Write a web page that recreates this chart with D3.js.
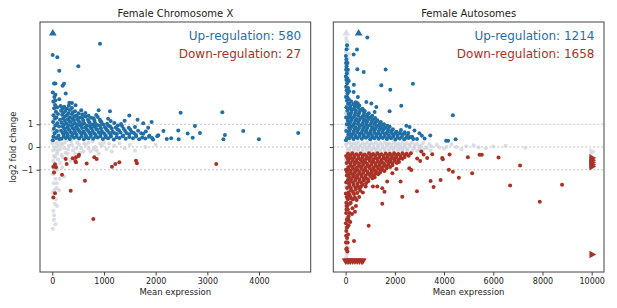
<!DOCTYPE html>
<html>
<head>
<meta charset="utf-8">
<script src="https://cdn.jsdelivr.net/npm/d3@7"></script>
<style>
  body { margin: 0; background: #fff; }
  text { font-family: "DejaVu Sans", sans-serif; }
</style>
</head>
<body>
<div id="chart"></div>
<script>
// ---- data (mean expression, log2 fold change) ----
const panelTitles = ["Female Chromosome X", "Female Autosomes"];
const upCounts = [580, 1214];
const downCounts = [27, 1658];
const xTicksX = [0, 1000, 2000, 3000, 4000];
const xTicksA = [0, 2000, 4000, 6000, 8000, 10000];
const yTicks = [-1, 0, 1];

// chromosome X
const xGray = [
  [10,-3.6],[30,-3.2],[20,-2.8],[50,-2.5],[15,-2.2],[40,-1.9],[25,-1.6],[60,-1.4],[10,-1.2],[35,-1.0],[70,-0.8],[20,-0.6],[55,-0.45],[90,-0.3],[15,-0.15],[45,0],[80,0.15],[30,0.3],[65,0.5],[10,0.7],[40,0.9],[20,1.2],[55,1.5],[30,1.9],[15,2.4],[100,-0.2],[150,-0.1],[200,0.1],[260,-0.25],[320,0.05],[400,-0.15],[480,0.2],[560,-0.05],[650,0.1],[740,-0.2],[830,0.0],[920,0.15],[1050,-0.1],[1200,0.05],[1400,-0.05],[120,0.25],[180,-0.35],[240,0.2],[300,-0.1],[360,0.25],[440,-0.3],[520,0.1],[600,-0.2],[700,0.2],[800,-0.1],[900,-0.3],[1000,0.2],[250,-0.5],[150,-0.7],[100,-1.0],[80,-1.8],[60,1.1],[120,0.6],[350,-0.6],[90,-2.6],[140,-1.4],
  [60,-3.4],[35,-3.0],[70,-2.3],[5,-2.0],[85,-1.6],[50,-1.1],[110,-0.55],[30,-0.4],[70,-0.1],[120,0.05],[5,0.15],[100,0.4],[50,0.65],[90,0.95],[5,1.4],[80,1.7],[45,2.1],[200,-0.45],[300,-0.3],[380,0.1],[460,-0.05],[540,-0.25],[620,0.15],[700,-0.05],[780,0.25],[860,-0.15],[960,0.05],[1100,0.15],[1150,-0.2],[1300,0.15],[1500,0.1],[1600,-0.15],[1800,0.0],[2000,0.1],[230,-0.05],[170,0.15],[280,0.3],[190,-0.9],[230,-1.3],[130,-1.9]
];
const xUp = [
  [180,0.36],[260,0.40],[340,0.35],[420,0.41],[520,0.37],[610,0.34],[700,0.39],[790,0.36],[880,0.42],[980,0.35],[1080,0.38],[1190,0.33],[1300,0.40],[1420,0.36],[1560,0.39],[1680,0.34],[1800,0.37],[1950,0.33],
  [220,0.46],[300,0.44],[380,0.48],[470,0.45],[565,0.47],[655,0.43],[745,0.48],[835,0.45],[930,0.47],[1030,0.44],[1135,0.46],[1245,0.43],[1360,0.47],[1490,0.44],[1620,0.46],[1740,0.42],[1870,0.45],
  [220,0.55],[300,0.52],[390,0.57],[470,0.54],[560,0.58],[650,0.51],[740,0.56],[840,0.53],[930,0.58],[1030,0.52],[1130,0.55],[1250,0.57],[1370,0.51],[1490,0.56],[1620,0.53],[1760,0.58],[1880,0.50],[2050,0.52],
  [200,0.63],[285,0.61],[360,0.65],[450,0.62],[535,0.66],[625,0.60],[715,0.64],[810,0.61],[900,0.65],[1000,0.60],[1100,0.63],[1210,0.60],[1320,0.64],[1440,0.60],[1580,0.62],[1720,0.60],
  [170,0.72],[250,0.69],[330,0.75],[430,0.71],[510,0.74],[600,0.68],[690,0.73],[780,0.70],[870,0.76],[960,0.69],[1070,0.72],[1170,0.67],[1290,0.74],[1410,0.70],[1540,0.66],[1660,0.71],[1810,0.68],
  [230,0.81],[310,0.79],[400,0.83],[490,0.80],[575,0.84],[665,0.78],[755,0.82],[850,0.79],[940,0.83],[1045,0.78],[1150,0.81],[1260,0.77],[1380,0.80],[1510,0.76],
  [200,0.90],[290,0.87],[370,0.92],[460,0.88],[550,0.93],[640,0.86],[730,0.91],[820,0.89],[920,0.94],[1020,0.87],[1120,0.90],[1230,0.86],[1350,0.92],[1480,0.85],[1600,0.88],
  [225,0.98],[310,0.96],[400,1.00],[490,0.97],[580,1.00],[670,0.95],[775,0.99],[880,0.96],[985,0.99],[1090,0.94],[1270,0.95],
  [180,1.07],[270,1.04],[350,1.10],[440,1.05],[530,1.09],[620,1.03],[720,1.08],[830,1.05],[950,1.10],[1060,1.02],[1200,1.06],[1330,1.01],
  [240,1.16],[330,1.14],[415,1.18],[505,1.15],[600,1.17],[705,1.13],[815,1.16],[935,1.12],[1130,1.14],
  [210,1.25],[300,1.22],[390,1.27],[480,1.23],[580,1.28],[690,1.21],[800,1.26],[920,1.20],[1080,1.24],
  [240,1.33],[340,1.31],[430,1.35],[530,1.30],[640,1.34],[750,1.29],[880,1.32],
  [190,1.42],[280,1.40],[380,1.45],[470,1.39],[580,1.43],[700,1.38],[850,1.41],
  [215,1.51],[310,1.49],[400,1.53],[510,1.48],[640,1.50],
  [170,1.60],[250,1.58],[340,1.63],[440,1.57],[560,1.62],
  [200,1.70],[280,1.68],[380,1.72],
  [160,1.80],[230,1.77],[320,1.82],
  [20,0.45],[45,0.60],[30,0.80],[60,0.95],[15,1.10],[50,1.25],[25,1.40],[70,1.55],[35,1.70],[55,1.85],[20,2.00],[40,2.20],[80,1.30],[100,1.05],[90,0.70],[120,0.50],[130,0.90],[110,1.45],[150,1.20],[140,0.35],[10,0.30],[75,0.40],[95,1.75],[60,2.05],
  [923,4.54],[8,4.05],[97,3.95],[135,3.35],[503,3.55],[33,2.79],[60,2.79],[226,2.78],[200,2.69],[10,2.40],[60,2.30],[135,2.10],[260,2.35],[330,1.95],[380,1.94],[450,1.84],[897,1.62],[1116,1.57],[1490,1.39],[2483,1.51],[3290,1.53],[2437,0.73],[2760,0.92],[2619,0.59],[2857,0.62],[2716,0.41],[2445,0.34],[2215,0.35],[2300,0.38],[3340,0.53],[3310,0.34],[3695,0.70],[3998,0.34],[4758,0.62],[1922,1.10],[1760,1.05],[1855,0.85],[2030,0.47],[1930,0.40],[1650,1.20],[1400,1.15],[2150,0.70]
];
const xDown = [[259,-0.53],[278,-0.75],[52,-0.76],[20,-0.87],[72,-0.89],[33,-1.12],[188,-1.22],[52,-2.04],[20,-2.22],[356,-1.92],[632,-1.48],[793,-3.17],[394,-0.50],[458,-0.45],[510,-0.40],[516,-0.34],[445,-0.62],[458,-0.67],[665,-0.73],[812,-0.45],[859,-0.53],[1155,-0.87],[1220,-0.75],[1297,-0.67],[1619,-0.60],[1638,-0.72],[3172,-0.75]];
const xUpClipped = [[10,5]];

// autosomes
const aGray = [
  [20,4.8],[60,4.5],[10,4.2],[90,3.9],[40,3.6],[120,3.3],[15,3.0],[70,2.7],[30,2.4],[100,2.1],[50,1.8],[10,1.5],[80,1.2],[35,0.9],[120,0.6],[60,0.3],[20,0.1],[90,-0.1],[45,-0.4],[130,-0.7],[15,-1.0],[75,-1.3],[35,-1.6],[110,-1.9],[55,-2.2],[10,-2.5],[85,-2.8],[40,-3.1],[120,-3.4],[20,-3.7],[70,-4.0],[45,-4.3],[95,-4.6],[25,-4.85],[60,3.4],[60,-3.3],[140,4.1],[140,-2.1],
  [50,4.65],[110,4.35],[30,4.05],[65,3.75],[5,3.45],[95,3.15],[45,2.85],[125,2.55],[20,2.25],[75,1.95],[110,1.65],[40,1.35],[130,1.05],[10,0.75],[70,0.45],[110,0.2],[60,-0.25],[10,-0.55],[80,-0.85],[50,-1.15],[120,-1.45],[15,-1.75],[70,-2.05],[125,-2.35],[30,-2.65],[105,-2.95],[65,-3.25],[10,-3.55],[90,-3.85],[30,-4.15],[115,-4.45],[55,-4.7],
  [150,0.20],[330,0.17],[510,0.22],[690,0.18],[870,0.21],[1050,0.16],[1230,0.20],[1410,0.18],[1590,0.22],[1770,0.17],[1950,0.20],[2130,0.15],[2310,0.19],[2500,0.16],[2700,0.20],[2900,0.14],[3150,0.18],[3400,0.12],
  [240,0.10],[420,0.12],[600,0.08],[780,0.11],[960,0.09],[1140,0.12],[1320,0.08],[1500,0.10],[1680,0.12],[1860,0.09],[2040,0.11],[2220,0.08],[2400,0.10],[2600,0.12],[2800,0.09],[3050,0.07],
  [240,0.02],[420,-0.02],[600,0.03],[780,-0.01],[960,0.02],[1140,-0.03],[1320,0.01],[1500,-0.02],[1680,0.03],[1860,-0.01],[2040,0.02],[2220,-0.03],[2410,0.00],[2600,0.03],[2800,-0.02],[3000,0.01],[3250,-0.01],[3500,0.02],[3800,-0.02],[4100,0.01],[4500,0.00],[4900,0.03],[5400,-0.01],[6000,0.02],
  [150,-0.09],[330,-0.10],[510,-0.08],[690,-0.11],[870,-0.07],[1050,-0.10],[1230,-0.09],[1410,-0.11],[1590,-0.08],[1770,-0.10],[1950,-0.07],[2130,-0.10],[2320,-0.08],[2520,-0.10],[2750,-0.07],[3000,-0.09],[3300,-0.05],
  [150,-0.18],[330,-0.20],[510,-0.16],[690,-0.19],[870,-0.15],[1050,-0.20],[1230,-0.17],[1410,-0.21],[1590,-0.16],[1770,-0.19],[1950,-0.15],[2130,-0.20],[2310,-0.17],[2500,-0.14],[2700,-0.19],[2900,-0.16],[3150,-0.12],[3450,-0.15],[3700,0.10],[4000,-0.08],[4300,0.12],[4700,-0.10],[5200,0.08],[5700,-0.05],[6500,0.06],[7300,-0.03]
];
const aUp = [
  [10,4.0],[30,3.85],[15,3.7],[40,3.55],[20,3.4],[50,3.25],[10,3.1],[35,2.95],[60,2.8],[20,2.65],[45,2.5],[80,2.35],[15,2.2],[55,2.05],[100,1.9],[30,1.75],[70,1.6],[120,1.45],[20,1.3],[90,1.15],[50,1.0],[140,0.85],[25,0.7],[110,0.55],[60,0.4],[10,0.3],[80,3.0],[100,2.6],[130,2.1],[160,1.7],[40,4.3],
  [75,3.7],[90,3.4],[70,2.2],[110,1.3],[150,1.05],[130,2.9],[140,2.45],
  [882,4.82],[57,4.48],[463,4.29],[327,4.07],[476,3.42],[735,3.30],[1627,3.41],[1450,2.72],[1815,2.52],[2735,2.78],[335,2.74],[2261,1.81],[1788,1.57],[4360,1.40],[4470,0.34],[4085,0.27],[4165,0.27],[3440,0.51],[3210,0.37],[2600,0.88],[2470,0.93],[2800,0.73],[3000,0.60],
  [842,1.98],[1045,1.91],[1248,1.76],[706,1.62],[1180,1.54],[463,1.83],[327,2.42],[500,2.20],[2700,0.45],[2900,0.35],[3100,0.50],[2550,0.62],[2250,0.75],[2400,0.65],
  [150,0.38],[320,0.35],[490,0.40],[660,0.36],[830,0.41],[1000,0.34],[1170,0.39],[1340,0.36],[1510,0.40],[1680,0.35],[1850,0.38],[2020,0.33],[2200,0.37],[2380,0.34],[2560,0.40],[2750,0.35],
  [235,0.46],[405,0.44],[575,0.48],[745,0.45],[915,0.47],[1085,0.43],[1255,0.47],[1425,0.44],[1595,0.46],[1765,0.43],[1935,0.46],[2110,0.42],[2290,0.45],[2470,0.42],[2650,0.44],
  [230,0.55],[400,0.52],[570,0.57],[740,0.53],[910,0.58],[1080,0.51],[1250,0.56],[1420,0.53],[1590,0.57],[1760,0.50],[1930,0.55],[2110,0.52],[2300,0.56],[2520,0.50],
  [145,0.63],[315,0.61],[485,0.65],[655,0.62],[825,0.66],[995,0.60],[1165,0.64],[1335,0.61],[1505,0.65],[1675,0.60],[1845,0.63],[2020,0.60],[2200,0.62],[2400,0.58],
  [160,0.72],[330,0.69],[500,0.75],[670,0.70],[840,0.74],[1010,0.68],[1180,0.73],[1350,0.70],[1520,0.75],[1700,0.68],[1880,0.72],[2060,0.67],
  [200,0.81],[370,0.79],[540,0.83],[710,0.80],[880,0.84],[1050,0.78],[1220,0.82],[1390,0.79],[1560,0.80],[1740,0.77],[1920,0.78],
  [240,0.90],[410,0.87],[580,0.92],[750,0.88],[920,0.93],[1090,0.86],[1260,0.91],[1430,0.87],[1610,0.85],[1790,0.89],
  [160,0.99],[330,0.97],[500,1.01],[670,0.98],[840,1.00],[1010,0.96],[1180,1.00],[1350,0.95],[1520,0.97],[1700,0.94],
  [180,1.08],[350,1.05],[520,1.10],[690,1.04],[860,1.09],[1030,1.03],[1200,1.07],[1380,1.02],[1560,1.00],
  [220,1.17],[390,1.15],[560,1.19],[730,1.16],[900,1.18],[1070,1.14],[1250,1.13],[1430,1.10],
  [260,1.26],[430,1.23],[600,1.28],[770,1.22],[940,1.27],[1110,1.20],[1290,1.18],
  [170,1.35],[340,1.33],[510,1.37],[680,1.32],[850,1.35],[1020,1.30],[1200,1.28],
  [200,1.44],[370,1.41],[540,1.46],[720,1.40],[900,1.43],[1080,1.37],
  [230,1.53],[400,1.51],[570,1.55],[750,1.50],[940,1.48],
  [250,1.62],[420,1.60],[600,1.64],[780,1.58],
  [180,1.71],[340,1.69],[510,1.73],[690,1.68],
  [200,1.80],[380,1.78],[560,1.82],
  [150,1.90],[320,1.88],[490,1.92],
  [230,2.00],[410,1.97]
];
const aDown = [
  [100,-0.30],[270,-0.28],[440,-0.32],[610,-0.29],[780,-0.33],[950,-0.28],[1120,-0.31],[1290,-0.27],[1460,-0.32],[1630,-0.29],[1800,-0.30],[1970,-0.27],[2140,-0.31],[2310,-0.28],[2480,-0.30],[2650,-0.27],
  [185,-0.38],[355,-0.37],[525,-0.40],[695,-0.37],[865,-0.41],[1035,-0.36],[1205,-0.39],[1375,-0.36],[1545,-0.40],[1715,-0.37],[1885,-0.38],[2055,-0.36],[2225,-0.40],[2395,-0.37],[2565,-0.39],
  [180,-0.47],[350,-0.45],[520,-0.49],[690,-0.46],[860,-0.50],[1030,-0.44],[1200,-0.48],[1370,-0.45],[1540,-0.49],[1710,-0.44],[1880,-0.47],[2050,-0.45],[2220,-0.50],[2400,-0.44],
  [100,-0.55],[265,-0.53],[435,-0.57],[605,-0.54],[775,-0.58],[945,-0.52],[1115,-0.56],[1285,-0.53],[1455,-0.57],[1625,-0.52],[1795,-0.55],[1965,-0.53],[2135,-0.57],[2310,-0.52],
  [120,-0.64],[290,-0.61],[460,-0.66],[630,-0.62],[800,-0.67],[970,-0.60],[1140,-0.65],[1310,-0.62],[1480,-0.66],[1650,-0.61],[1820,-0.64],[1990,-0.60],[2170,-0.66],
  [205,-0.72],[375,-0.70],[545,-0.74],[715,-0.71],[885,-0.75],[1055,-0.69],[1225,-0.73],[1395,-0.70],[1565,-0.74],[1735,-0.69],[1905,-0.72],[2080,-0.70],
  [200,-0.81],[370,-0.78],[540,-0.83],[710,-0.79],[880,-0.84],[1050,-0.77],[1220,-0.82],[1390,-0.79],[1560,-0.83],[1730,-0.78],[1900,-0.80],
  [115,-0.89],[285,-0.87],[455,-0.91],[625,-0.88],[795,-0.92],[965,-0.86],[1135,-0.90],[1305,-0.87],[1475,-0.91],[1645,-0.86],[1815,-0.88],
  [130,-0.98],[300,-0.95],[470,-1.00],[640,-0.96],[810,-1.01],[980,-0.94],[1150,-0.99],[1320,-0.95],[1490,-1.00],[1670,-0.93],
  [215,-1.06],[385,-1.04],[555,-1.08],[725,-1.05],[895,-1.09],[1065,-1.03],[1235,-1.07],[1405,-1.04],[1580,-1.06],
  [210,-1.15],[380,-1.12],[550,-1.17],[720,-1.13],[890,-1.18],[1060,-1.11],[1230,-1.16],[1400,-1.12],
  [125,-1.23],[295,-1.21],[465,-1.25],[635,-1.22],[805,-1.26],[975,-1.20],[1145,-1.24],[1320,-1.20],
  [140,-1.32],[310,-1.29],[480,-1.34],[650,-1.30],[820,-1.35],[1000,-1.28],[1180,-1.33],
  [225,-1.41],[395,-1.39],[565,-1.43],[735,-1.40],[910,-1.42],[1090,-1.38],
  [220,-1.50],[390,-1.47],[560,-1.52],[740,-1.46],[920,-1.51],
  [135,-1.60],[305,-1.58],[475,-1.62],[650,-1.57],[830,-1.60],
  [150,-1.70],[320,-1.67],[500,-1.72],[680,-1.66],
  [215,-1.80],[395,-1.78],[560,-1.82],
  [230,-1.90],[410,-1.87],[590,-1.92],
  [120,-2.00],[300,-1.98],[470,-2.02],
  [160,-2.10],[340,-2.07],
  [200,-2.20],[380,-2.22],
  [90,-2.30],[250,-2.28],[450,-2.33],
  [170,-2.50],
  [20,-0.40],[40,-0.70],[15,-1.00],[50,-1.25],[25,-1.55],[60,-1.80],[10,-2.05],[45,-2.20],[30,-2.45],
  [80,-0.50],[60,-1.10],[90,-1.45],[70,-2.60],[110,-2.15],[35,-2.75],[95,-3.15],[55,-3.55],[120,-3.45],[20,-3.90],[85,-4.20],[30,-4.50],
  [40,-2.60],[90,-2.75],[20,-2.90],[120,-3.05],[50,-3.20],[10,-3.35],[80,-3.50],[30,-3.70],[100,-3.85],[60,-4.00],[15,-4.20],[45,-4.45],[70,-4.60],[130,-3.25],[160,-2.90],[210,-2.45],[280,-2.70],[190,-3.30],
  [300,-2.30],[550,-2.20],[420,-2.60],[700,-2.00],[620,-1.75],[260,-2.95],[380,-2.85],
  [3075,-0.20],[3170,-0.33],[3520,-0.32],[3315,-0.48],[2910,-0.51],[3030,-0.62],[3925,-0.48],[3950,-0.54],[4225,-0.33],[4968,-0.45],[5440,-0.34],[5535,-0.34],[6213,-0.46],[7090,-0.81],[4196,-1.00],[4359,-1.09],[5142,-1.16],[4602,-1.35],[3860,-1.45],[3454,-1.50],[3575,-1.76],[6685,-1.69],[8795,-1.66],[7890,-2.41],[2898,-1.95],[2302,-2.19],[1490,-2.50],[937,-3.47],[340,-4.14],[2236,-1.52],[2590,-0.94],[2670,-1.01],
  [1490,-1.82],[1580,-1.97],[1285,-1.74],[1690,-1.52],[1900,-1.16],[2065,-0.97],[1110,-1.74],[815,-1.74]
];
const aUpClipped = [[530,5]];
const aGrayClippedUp = [[28,5]];
const aGrayClippedRight = [[10000,-0.21]];
const aDownClippedRight = [[10000,-0.48],[10000,-0.58],[10000,-0.68],[10000,-0.78],[10000,-0.86],[10000,-4.73]];
const aDownClippedBottom = [[0,-5],[60,-5],[130,-5],[200,-5],[290,-5],[380,-5],[470,-5],[560,-5],[650,-5],[700,-5]];

// ---- layout ----
const W = 617, H = 308;
const plotTop = 22, plotBottom = 272;
const blue = "#1f6fa6", red = "#a93226", gray = "#cdd1d9";

const svg = d3.select("#chart").append("svg")
  .attr("width", W).attr("height", H);

const y = d3.scaleLinear().domain([-5.5, 5.5]).range([plotBottom, plotTop]);

const panels = [
  { x: d3.scaleLinear().domain([-238, 5000]).range([40, 310.7]), ticks: xTicksX, labels: true,
    gray: xGray, up: xUp, down: xDown, upClip: xUpClipped, grayUp: [], grayRight: [], downRight: [], downBottom: [] },
  { x: d3.scaleLinear().domain([-500, 10500]).range([333.3, 604]), ticks: xTicksA, labels: false,
    gray: aGray, up: aUp, down: aDown, upClip: aUpClipped, grayUp: aGrayClippedUp, grayRight: aGrayClippedRight,
    downRight: aDownClippedRight, downBottom: aDownClippedBottom }
];

const tri = d3.symbol().type(d3.symbolTriangle).size(26);

panels.forEach((p, i) => {
  const [x0, x1] = p.x.range();
  const g = svg.append("g");

  // dashed reference lines
  g.selectAll(".ref").data(yTicks).enter().append("line")
    .attr("x1", x0).attr("x2", x1)
    .attr("y1", d => y(d)).attr("y2", d => y(d))
    .attr("stroke", "#b4b4b4").attr("stroke-width", 0.8)
    .attr("stroke-dasharray", "2,2");

  const dots = (data, color, op) => g.append("g").selectAll("circle").data(data).enter().append("circle")
    .attr("cx", d => p.x(d[0])).attr("cy", d => y(d[1]))
    .attr("r", 2).attr("fill", color).attr("fill-opacity", op);

  const tris = (data, color, rot, op) => g.append("g").selectAll("path").data(data).enter().append("path")
    .attr("d", tri)
    .attr("transform", d => `translate(${p.x(d[0])},${y(d[1])}) rotate(${rot})`)
    .attr("fill", color).attr("fill-opacity", op);

  dots(p.gray, gray, 0.75);
  tris(p.grayUp, gray, 0, 0.75);
  tris(p.grayRight, gray, 90, 0.75);
  dots(p.up, blue, 1);
  dots(p.down, red, 1);
  tris(p.upClip, blue, 0, 1);
  tris(p.downRight, red, 90, 1);
  tris(p.downBottom, red, 180, 1);

  // frame
  g.append("rect")
    .attr("x", x0).attr("y", plotTop)
    .attr("width", x1 - x0).attr("height", plotBottom - plotTop)
    .attr("fill", "none").attr("stroke", "#444").attr("stroke-width", 1);

  // axes
  const xAxis = g.append("g")
    .attr("transform", `translate(0,${plotBottom})`)
    .call(d3.axisBottom(p.x).tickValues(p.ticks).tickSize(3.5).tickPadding(3)
      .tickFormat(d3.format("d")));
  const yAxis = g.append("g")
    .attr("transform", `translate(${x0},0)`)
    .call(d3.axisLeft(y).tickValues(yTicks).tickSize(3.5).tickPadding(3.5)
      .tickFormat(p.labels ? d3.format("d") : ""));
  [xAxis, yAxis].forEach(a => {
    a.select(".domain").remove();
    a.selectAll("line").attr("stroke", "#444");
    a.selectAll("text").attr("font-size", 8).attr("fill", "#222")
      .attr("font-family", "DejaVu Sans, sans-serif");
  });

  const cx = (x0 + x1) / 2;
  g.append("text").attr("x", cx).attr("y", 17)
    .attr("text-anchor", "middle").attr("font-size", 10).attr("fill", "#222")
    .text(panelTitles[i]);
  g.append("text").attr("x", cx).attr("y", 295)
    .attr("text-anchor", "middle").attr("font-size", 8.5).attr("fill", "#222")
    .text("Mean expression");

  g.append("text").attr("x", x1 - 9.5).attr("y", 39.5)
    .attr("text-anchor", "end").attr("font-size", 12).attr("fill", blue)
    .text(`Up-regulation: ${upCounts[i]}`);
  g.append("text").attr("x", x1 - 9.5).attr("y", 58)
    .attr("text-anchor", "end").attr("font-size", 12).attr("fill", red)
    .text(`Down-regulation: ${downCounts[i]}`);
});

svg.append("text")
  .attr("transform", `translate(16.3,${y(0)}) rotate(-90)`)
  .attr("text-anchor", "middle").attr("font-size", 8.5).attr("fill", "#222")
  .text("log2 fold change");
</script>
</body>
</html>
